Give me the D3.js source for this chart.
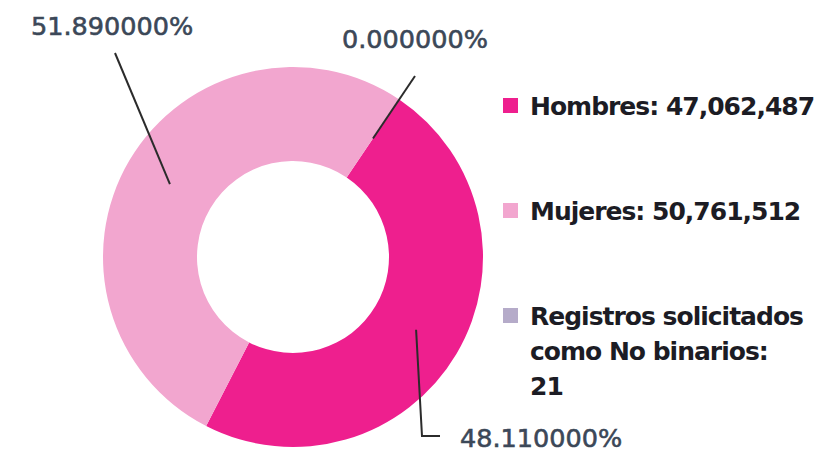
<!DOCTYPE html>
<html>
<head>
<meta charset="utf-8">
<script src="https://cdn.jsdelivr.net/npm/d3@7"></script>
<style>
  body { margin: 0; background: #fff; }
  svg { display: block; }
</style>
</head>
<body>
<svg id="chart"></svg>
<script>
// data
const categories = ["Hombres", "Mujeres", "Registros solicitados como No binarios"];
const counts = [47062487, 50761512, 21];
const percents = [48.11, 51.89, 0.0];
const legendLines = [
    ["Hombres: 47,062,487"],
    ["Mujeres: 50,761,512"],
    ["Registros solicitados", "como No binarios:", "21"]
];
const colors = ["#ee1f8e", "#f2a6cf", "#b5abc9"];

const width = 826, height = 457;
const cx = 293, cy = 257;
const outerR = 190, innerR = 96;

// where each percent label sits (elbow points for the leader lines)
const labelLayout = [
    { lx: 460, ly: 447, path: [[422, 436], [440, 436]] },
    { lx: 31, ly: 35, path: [[115, 53]] },
    { lx: 342, ly: 48, path: [[415, 76]] }
];

const svg = d3.select("#chart")
    .attr("width", width)
    .attr("height", height)
    .attr("viewBox", [0, 0, width, height]);

svg.append("rect").attr("width", width).attr("height", height).attr("fill", "#fff");

const pie = d3.pie()
    .value(d => d)
    .sort(null)
    .startAngle(34 * Math.PI / 180)
    .endAngle(34 * Math.PI / 180 + 2 * Math.PI);

const arcs = pie(counts);

const arc = d3.arc().innerRadius(innerR).outerRadius(outerR);

const g = svg.append("g").attr("transform", `translate(${cx},${cy})`);

g.selectAll("path.slice")
    .data(arcs)
    .join("path")
    .attr("class", "slice")
    .attr("fill", (d, i) => colors[i])
    .attr("d", arc);

// leader lines + percent labels
const line = d3.line();
arcs.forEach((d, i) => {
    const c = arc.centroid(d);
    const pts = [[c[0] + cx, c[1] + cy]].concat(labelLayout[i].path);
    svg.append("path")
        .attr("d", line(pts))
        .attr("fill", "none")
        .attr("stroke", "#2b2b2b")
        .attr("stroke-width", 2);
    svg.append("text")
        .attr("x", labelLayout[i].lx)
        .attr("y", labelLayout[i].ly)
        .attr("font-family", "DejaVu Sans, sans-serif")
        .attr("font-size", 25.5)
        .attr("fill", "#3c4858")
        .attr("stroke", "#3c4858")
        .attr("stroke-width", 0.6)
        .text(percents[i].toFixed(6) + "%");
});

// legend
const legendY = [115, 220, 325];
const legend = svg.append("g");
categories.forEach((c, i) => {
    legend.append("rect")
        .attr("x", 503)
        .attr("y", legendY[i] - 17)
        .attr("width", 15)
        .attr("height", 15)
        .attr("fill", colors[i]);
    const t = legend.append("text")
        .attr("x", 530)
        .attr("y", legendY[i])
        .attr("font-family", "DejaVu Sans, sans-serif")
        .attr("font-weight", "bold")
        .attr("font-size", 25)
        .attr("letter-spacing", -1.0)
        .attr("fill", "#1c1c24");
    legendLines[i].forEach((l, j) => {
        t.append("tspan")
            .attr("x", 530)
            .attr("dy", j === 0 ? 0 : 35)
            .text(l);
    });
});
</script>
</body>
</html>
